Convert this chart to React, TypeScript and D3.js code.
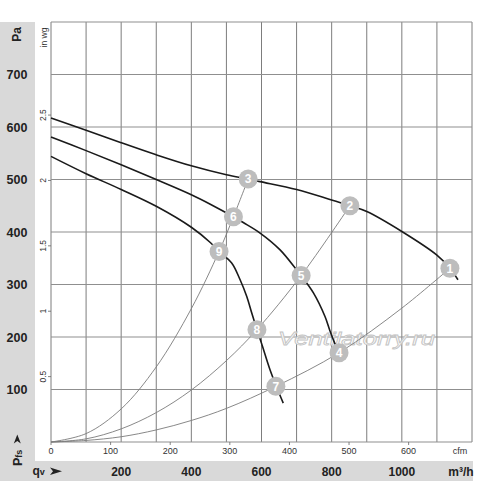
import React from 'react';
import * as d3 from 'd3';

// axis labels
const qvLabels = [200, 400, 600, 800, 1000];
const paLabels = [100, 200, 300, 400, 500, 600, 700];
const cfmLabels = [0, 100, 200, 300, 400, 500, 600];
const inwgLabels = [0.5, 1, 1.5, 2, 2.5];

// fan curves (qv in m³/h, Pfs in Pa)
const fan1Qv = [0, 100, 200, 300, 400, 500, 562, 596, 700, 795, 852, 900, 1000, 1100, 1137, 1160];
const fan1Pa = [617, 594, 570, 547, 526, 509, 501, 496, 481, 462, 450, 439, 401, 356, 331, 309];
const fan2Qv = [0, 100, 200, 300, 400, 454, 520, 548, 596, 653, 700, 713, 748, 781, 795, 810];
const fan2Pa = [581, 555, 528, 500, 471, 453, 429, 418, 398, 366, 328, 317, 284, 239, 212, 186];
const fan3Qv = [0, 100, 200, 300, 400, 454, 479, 515, 539, 558, 572, 587, 600, 624, 641, 662];
const fan3Pa = [544, 511, 481, 449, 409, 380, 363, 341, 309, 277, 246, 214, 188, 138, 108, 74];

// system curves
const sysAQv = [0, 100, 200, 300, 400, 479, 520, 562];
const sysAPa = [0, 16, 63, 143, 254, 363, 429, 501];
const sysBQv = [0, 100, 200, 300, 400, 500, 587, 713, 852];
const sysBPa = [0, 6, 25, 56, 99, 155, 214, 317, 450];
const sysCQv = [0, 100, 200, 300, 400, 500, 641, 821, 1000, 1137];
const sysCPa = [0, 3, 10, 23, 41, 64, 106, 170, 255, 331];

// numbered operating points
const pointIds = [1, 2, 3, 4, 5, 6, 7, 8, 9];
const pointQv = [1137, 852, 562, 821, 713, 520, 641, 587, 479];
const pointPa = [331, 450, 501, 170, 317, 429, 106, 214, 363];

const M3H_PER_CFM = 1.699;
const PA_PER_INWG = 249.09;

const font = "'Liberation Sans', Arial, sans-serif";

export default function App() {
  const W = 500;
  const H = 483;
  const left = 51, right = 472, top = 22, bottom = 442;

  const x = d3.scaleLinear().domain([0, 1200]).range([left, right]);
  const y = d3.scaleLinear().domain([0, 800]).range([bottom, top]);

  const line = d3.line<[number, number]>()
    .x(d => x(d[0]))
    .y(d => y(d[1]))
    .curve(d3.curveCatmullRom.alpha(0.5));

  const zip = (a: number[], b: number[]) => a.map((v, i) => [v, b[i]] as [number, number]);

  const fans = [zip(fan1Qv, fan1Pa), zip(fan2Qv, fan2Pa), zip(fan3Qv, fan3Pa)];
  const systems = [zip(sysAQv, sysAPa), zip(sysBQv, sysBPa), zip(sysCQv, sysCPa)];

  const band = '#d9d9d9';

  return (
    <svg width={W} height={H} style={{ position: 'absolute', left: 0, top: 0, background: '#fff' }} fontFamily={font}>
      {/* gray label bands */}
      <rect x={0} y={top} width={35} height={481 - top} fill={band} />
      <rect x={0} y={461} width={right + 1} height={20} fill={band} />

      {/* grid */}
      {d3.range(0, 1201, 100).map(v => (
        <line key={'gx' + v} x1={x(v)} x2={x(v)} y1={top} y2={bottom} stroke="#7d7d7d" strokeWidth={1} />
      ))}
      {d3.range(0, 801, 100).map(v => (
        <line key={'gy' + v} x1={left} x2={right} y1={y(v)} y2={y(v)} stroke="#8f8f8f" strokeWidth={1.1} />
      ))}

      {/* Pa labels */}
      {paLabels.map(v => (
        <text key={'pa' + v} x={17} y={y(v)} dy="0.36em" textAnchor="middle" fontSize={12.5} fontWeight="bold" fill="#222">{v}</text>
      ))}
      <text transform={`translate(20.5,34.5) rotate(-90)`} textAnchor="middle" fontSize={12} fontWeight="bold" fill="#222">Pa</text>

      {/* in wg labels */}
      {inwgLabels.map(v => (
        <g key={'iw' + v}>
          <line x1={left - 3} x2={left} y1={y(v * PA_PER_INWG)} y2={y(v * PA_PER_INWG)} stroke="#666" strokeWidth={0.8} />
          <text transform={`translate(46,${y(v * PA_PER_INWG)}) rotate(-90)`} textAnchor="middle" fontSize={8.5} fill="#333">{v}</text>
        </g>
      ))}
      <text transform={`translate(46.5,37.5) rotate(-90)`} textAnchor="middle" fontSize={8.5} fill="#333">in wg</text>

      {/* cfm labels */}
      {cfmLabels.map(v => (
        <g key={'cf' + v}>
          <line x1={x(v * M3H_PER_CFM)} x2={x(v * M3H_PER_CFM)} y1={bottom} y2={bottom + 3} stroke="#666" strokeWidth={0.8} />
          <text x={x(v * M3H_PER_CFM)} y={454} textAnchor="middle" fontSize={9} fill="#333">{v}</text>
        </g>
      ))}
      <text x={460} y={454} textAnchor="middle" fontSize={9} fill="#333">cfm</text>

      {/* m³/h labels */}
      {qvLabels.map(v => (
        <text key={'qv' + v} x={x(v)} y={475.5} textAnchor="middle" fontSize={12} fontWeight="bold" fill="#222">{v}</text>
      ))}
      <text x={461} y={475.5} textAnchor="middle" fontSize={12} fontWeight="bold" fill="#222">m³/h</text>

      {/* qv with arrow */}
      <text x={32.5} y={474.5} fontSize={12} fontWeight="bold" fill="#222">q<tspan fontSize={9}>v</tspan></text>
      <path d="M50,467.5 L62,471.3 L50,475 L53,471.3 Z" fill="#222" />

      {/* Pfs with arrow */}
      <text transform={`translate(21.5,466) rotate(-90)`} fontSize={12.5} fontWeight="bold" fill="#222">P<tspan fontSize={9}>fs</tspan></text>
      <path d="M13.8,443.5 L17.3,434.5 L20.8,443.5 L17.3,441 Z" fill="#222" />

      {/* watermark */}
      <text x={278} y={345} fontSize={19} fontStyle="italic" fill="#fff" stroke="#c4c4c4" strokeWidth={0.8} textLength={157} lengthAdjust="spacingAndGlyphs">Ventilatorry.ru</text>

      {/* system curves */}
      {systems.map((s, i) => (
        <path key={'s' + i} d={line(s) || ''} fill="none" stroke="#7a7a7a" strokeWidth={0.9} />
      ))}

      {/* fan curves */}
      {fans.map((f, i) => (
        <path key={'f' + i} d={line(f) || ''} fill="none" stroke="#1a1a1a" strokeWidth={1.6} />
      ))}

      {/* operating points */}
      {pointIds.map((id, i) => (
        <g key={'p' + id} transform={`translate(${x(pointQv[i])},${y(pointPa[i])})`}>
          <circle r={9.5} fill="#bdbdbd" />
          <text dy="0.36em" textAnchor="middle" fontSize={12} fontWeight="bold" fill="#fff">{id}</text>
        </g>
      ))}
    </svg>
  );
}
